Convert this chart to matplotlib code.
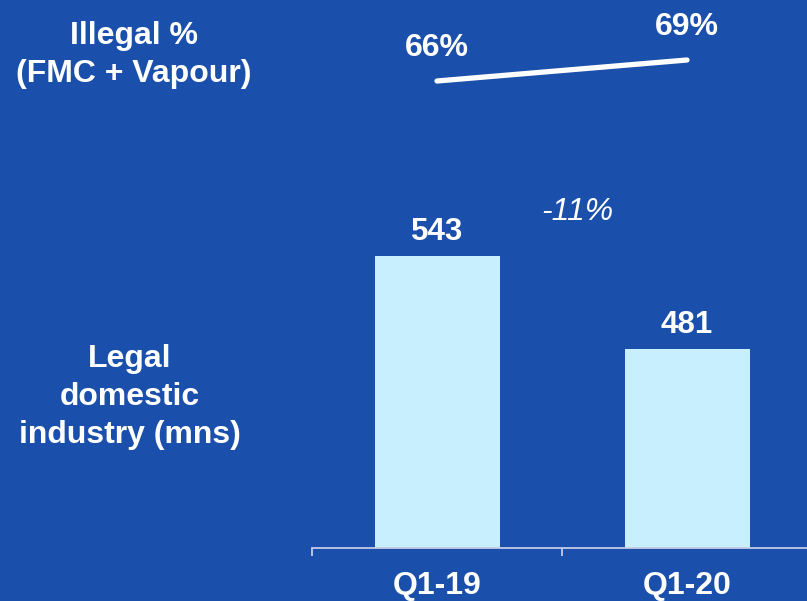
import matplotlib
matplotlib.use("Agg")
import matplotlib.pyplot as plt

plt.rcParams["font.family"] = ["Liberation Sans", "DejaVu Sans"]

# quarterly values
quarters = ["Q1-19", "Q1-20"]
legal_volume = [543, 481]          # legal domestic industry, mns
illegal_share = [66, 69]           # illegal % (FMC + vapour)
change_label = "-11%"

BG = "#1a4fab"
BAR = "#c7effd"
AXIS = "#c5cbe6"
W, H = 807, 601

fig = plt.figure(figsize=(W / 100, H / 100), dpi=100, facecolor=BG)


def fig_box(left, top, right, bottom):
    return [left / W, 1 - bottom / H, (right - left) / W, (bottom - top) / H]


# ── Bars ────────────────────────────────────────────────────────────────────
ax = fig.add_axes(fig_box(312, 140, 812, 548))
ax.set_facecolor(BG)
x = list(range(len(quarters)))
bars = ax.bar(x, legal_volume, width=0.5, color=BAR, zorder=2)
ax.set_xlim(-0.5, 1.5)
ax.set_ylim(348, 620)

for rect, val in zip(bars, legal_volume):
    ax.annotate(f"{val}", xy=(rect.get_x() + rect.get_width() / 2, val),
                xytext=(0, 17), textcoords="offset points",
                ha="center", va="center", color="white",
                fontsize=22.5, fontweight="bold")

ax.text(0.56, 572, change_label, ha="center", va="center", color="white",
        fontsize=23, fontstyle="italic")

for side in ("top", "right", "left"):
    ax.spines[side].set_visible(False)
ax.spines["bottom"].set_color(AXIS)
ax.spines["bottom"].set_linewidth(1.3)
ax.set_yticks([])
ax.set_xticks([-0.5, 0.5, 1.5])
ax.set_xticklabels([])
ax.tick_params(axis="x", which="major", length=6, width=1.3, color=AXIS)
ax.set_xticks(x, minor=True)
ax.set_xticklabels(quarters, minor=True)
ax.tick_params(axis="x", which="minor", length=0, pad=16.5,
               labelsize=23, labelcolor="white")
for lbl in ax.get_xticklabels(minor=True):
    lbl.set_fontweight("bold")

# ── Illegal share line ──────────────────────────────────────────────────────
lax = fig.add_axes(fig_box(312, 0, 812, 120))
lax.set_xlim(-0.5, 1.5)
lax.set_ylim(60.43, 77.57)
lax.axis("off")
lax.plot(x, illegal_share, color="white", lw=3.8, solid_capstyle="round")
for xi, val in zip(x, illegal_share):
    lax.annotate(f"{val}%", xy=(xi, val), xytext=(0, 24),
                 textcoords="offset points", ha="center", va="center",
                 color="white", fontsize=23, fontweight="bold")

# ── Row labels ──────────────────────────────────────────────────────────────
fig.text(134 / W, 1 - 55 / H, "Illegal %\n(FMC + Vapour)", ha="center",
         va="center", multialignment="center", color="white",
         fontsize=23, fontweight="bold", linespacing=1.35)
fig.text(130 / W, 1 - 397 / H, "Legal\ndomestic\nindustry (mns)", ha="center",
         va="center", multialignment="center", color="white",
         fontsize=23, fontweight="bold", linespacing=1.35)

fig.savefig("out.png", dpi=100, facecolor=BG)
